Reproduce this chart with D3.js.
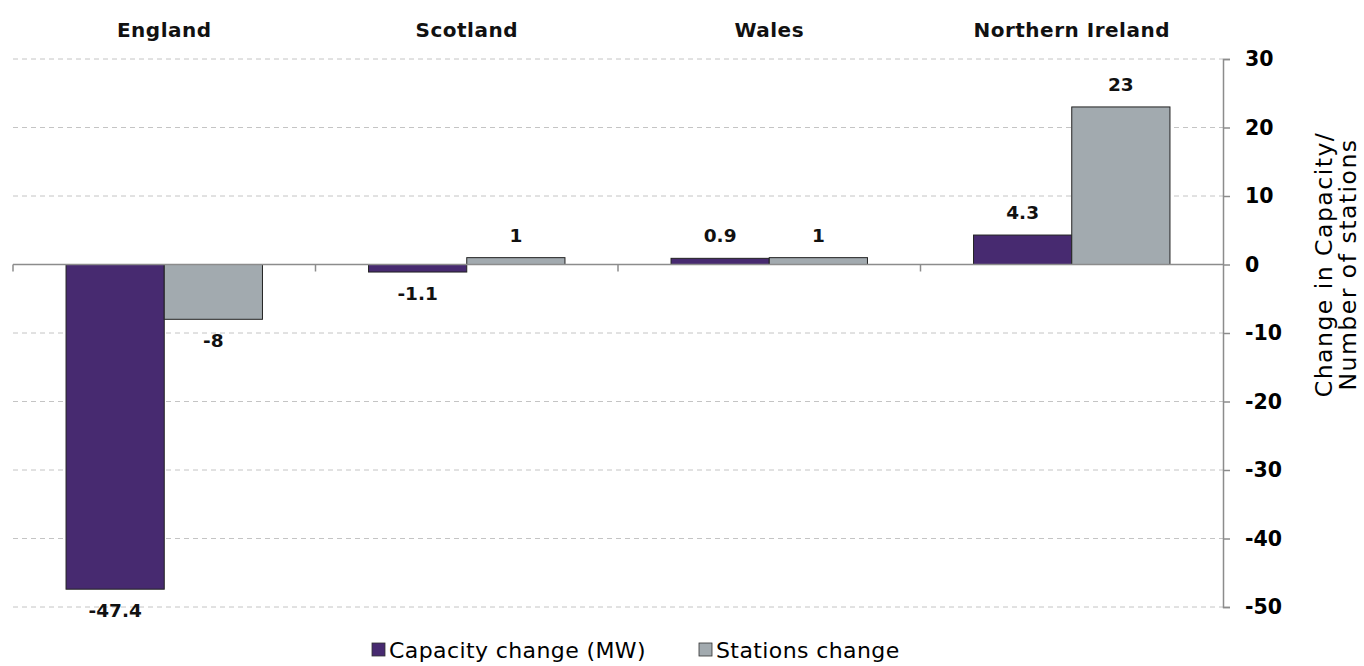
<!DOCTYPE html>
<html><head><meta charset="utf-8">
<script src="https://cdn.jsdelivr.net/npm/d3@7"></script>
<style>body{margin:0;background:#fff}svg{display:block}</style>
</head><body><svg id="c" width="1364" height="666"></svg>
<script>
const categories = ["England", "Scotland", "Wales", "Northern Ireland"];
const seriesNames = ["Capacity change (MW)", "Stations change"];
const capacityChange = [-47.4, -1.1, 0.9, 4.3];
const stationsChange = [-8, 1, 1, 23];
const capacityLabels = ["-47.4", "-1.1", "0.9", "4.3"];
const stationsLabels = ["-8", "1", "1", "23"];
const yTicks = [30, 20, 10, 0, -10, -20, -30, -40, -50];
const colors = ["#472A70", "#A2AAAF"];

(function () {
const svg = d3.select("#c");
const font = "Verdana, 'DejaVu Sans', sans-serif";
const pLeft = 13, pRight = 1223, pTop = 59, pBottom = 607;

const x = d3.scaleBand().domain(categories).range([pLeft, pRight]).paddingInner(0).paddingOuter(0);
const inner = d3.scaleBand().domain([0, 1]).range([0, x.bandwidth()]).paddingInner(0).paddingOuter(0.54);
const y = d3.scaleLinear().domain([-50, 30]).range([pBottom, pTop]);

// gridlines
svg.append("g").selectAll("line").data(yTicks.filter(d => d !== 0)).join("line")
  .attr("x1", pLeft).attr("x2", pRight)
  .attr("y1", d => y(d)).attr("y2", d => y(d))
  .attr("stroke", "#c4c4c4").attr("stroke-width", 1).attr("stroke-dasharray", "5,4");

// bars
const series = [capacityChange, stationsChange];
const labels = [capacityLabels, stationsLabels];
series.forEach((vals, si) => {
  const g = svg.append("g");
  g.selectAll("rect").data(vals).join("rect")
    .attr("x", (d, i) => x(categories[i]) + inner(si))
    .attr("width", inner.bandwidth())
    .attr("y", d => y(Math.max(0, d)))
    .attr("height", d => Math.abs(y(d) - y(0)))
    .attr("fill", colors[si]).attr("stroke", "#222").attr("stroke-width", 1);
  g.selectAll("text").data(vals).join("text")
    .attr("x", (d, i) => x(categories[i]) + inner(si) + inner.bandwidth() / 2)
    .attr("y", d => d >= 0 ? y(d) - 16 : y(d) + 28)
    .attr("text-anchor", "middle")
    .attr("font-family", font).attr("font-weight", "bold").attr("font-size", 18.5)
    .attr("fill", "#111")
    .text((d, i) => labels[si][i]);
});

// zero line + category ticks
svg.append("line").attr("x1", pLeft).attr("x2", pRight).attr("y1", y(0)).attr("y2", y(0))
  .attr("stroke", "#8c8c8c").attr("stroke-width", 1.5);
svg.append("g").selectAll("line").data(categories).join("line")
  .attr("x1", d => x(d)).attr("x2", d => x(d))
  .attr("y1", y(0)).attr("y2", y(0) + 7)
  .attr("stroke", "#8c8c8c").attr("stroke-width", 1.5);

// category labels at top
svg.append("g").selectAll("text").data(categories).join("text")
  .attr("x", d => x(d) + x.bandwidth() / 2).attr("y", 37)
  .attr("text-anchor", "middle")
  .attr("font-family", font).attr("font-weight", "bold").attr("font-size", 20)
  .attr("letter-spacing", 0.5)
  .attr("fill", "#111").text(d => d);

// right axis
const axis = d3.axisRight(y).tickValues(yTicks).tickSize(7).tickPadding(15).tickFormat(d => String(d));
const ag = svg.append("g").attr("transform", `translate(${pRight},0)`).call(axis);
ag.select(".domain").attr("stroke", "#8c8c8c").attr("stroke-width", 1.5);
ag.selectAll(".tick line").attr("stroke", "#8c8c8c").attr("stroke-width", 1.5);
ag.selectAll(".tick text").attr("font-family", font).attr("font-weight", "bold")
  .attr("font-size", 20.5).attr("fill", "#000");

// axis title
const t = svg.append("text")
  .attr("transform", `translate(1332,${y(0)}) rotate(-90)`)
  .attr("text-anchor", "middle")
  .attr("font-family", font).attr("font-size", 23.5).attr("letter-spacing", 1.5).attr("fill", "#000");
t.append("tspan").attr("x", 0).attr("dy", "0").text("Change in Capacity/");
t.append("tspan").attr("x", 0).attr("dy", 24).text("Number of stations");

// legend
const legendX = [372, 699];
const lg = svg.append("g");
seriesNames.forEach((n, i) => {
  lg.append("rect").attr("x", legendX[i]).attr("y", 643).attr("width", 13).attr("height", 13)
    .attr("fill", colors[i]).attr("stroke", "#333").attr("stroke-width", 0.8);
  lg.append("text").attr("x", legendX[i] + 17).attr("y", 658)
    .attr("font-family", font).attr("font-size", 22).attr("letter-spacing", 0.4).attr("fill", "#000").text(n);
});
})();
</script></body></html>
